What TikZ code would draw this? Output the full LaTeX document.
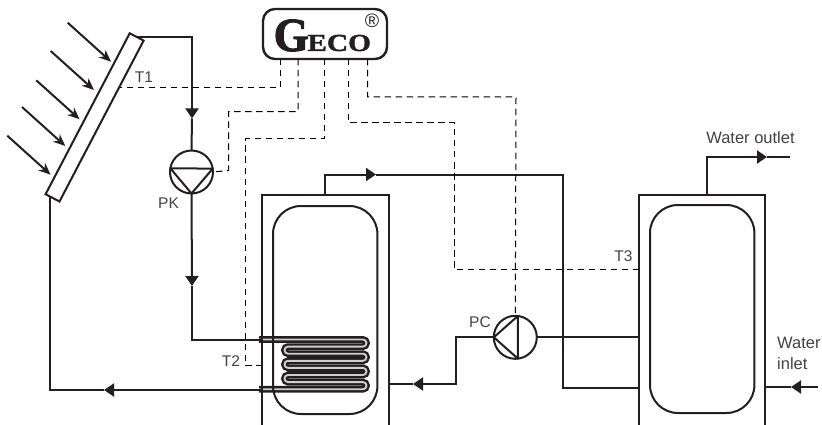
\documentclass[tikz,border=0pt]{standalone}
\usepackage{fontspec}
\setmainfont{Liberation Sans}
\newfontfamily\gecobig[FakeBold=2.2,FakeStretch=0.95]{Liberation Serif Bold}
\newfontfamily\gecosmall[FakeBold=1.6,FakeStretch=1.2]{Liberation Serif Bold}
\usetikzlibrary{arrows.meta}
\definecolor{ink}{HTML}{231F20}
\newcommand{\coilpath}{(259,339.5) -- (366.5,339.5) -- (366.5,346.6) -- (284.5,346.6) -- (284.5,353.7) -- (366.5,353.7) -- (366.5,360.8) -- (284.5,360.8) -- (284.5,367.9) -- (366.5,367.9) -- (366.5,375) -- (284.5,375) -- (284.5,382.1) -- (366.5,382.1) -- (366.5,389.2) -- (259,389.2)}
\begin{document}
\begin{tikzpicture}[x=1pt,y=-1pt,ink,
    pipe/.style={line width=2pt,draw=ink},
    ar/.style={pipe,-{Triangle[length=10pt,width=13pt]}},
    sun/.style={line width=2pt,draw=ink,-{Stealth[length=12pt,width=10pt]}},
    sensor/.style={line width=1pt,draw=black,dash pattern=on 6.5pt off 4.5pt},
    pump/.style={circle,line width=2pt,draw=ink,minimum size=43pt,inner sep=0pt,outer sep=0pt},
    inner/.style={rectangle,rounded corners=28pt,line width=2pt,draw=ink,inner sep=0pt,outer sep=0pt},
    lab/.style={font=\fontsize{15.5}{18}\selectfont,text=ink!85,inner sep=0pt},
    water/.style={font=\fontsize{16.5}{21}\selectfont,text=ink!85,inner sep=0pt,align=left}]
  \useasboundingbox (0,0) rectangle (822,425);

  \node[rectangle,draw=ink,line width=2pt,minimum width=181.6pt,minimum height=15.7pt,inner sep=0pt,outer sep=0pt,rotate=62.4] (col) at (94.6,117.4) {};
  \foreach \i/\x/\y in {1/67.7/22.7,2/50.7/51,3/36.3/80.3,4/22/107,5/7.3/135.7} {
    \coordinate (s\i) at (\x,\y);
    \coordinate (e\i) at (\x+43.3,\y+39);
    \draw[sun] (s\i) -- (e\i);
  }

  \node[rectangle,rounded corners=12pt,line width=2.4pt,draw=ink,minimum width=124pt,minimum height=50pt,inner sep=0pt,outer sep=0pt] (logo) at (325,34) {};
  \node[inner sep=0pt,anchor=base west] (geco) at (273.5,51) {\gecobig\fontsize{47.5}{47}\selectfont G\gecosmall\fontsize{24.5}{25}\selectfont\hspace{-1.5pt}ECO};
  \node[inner sep=0pt,font=\fontsize{19.5}{19}\selectfont] (reg) at (372,20.5) {®};

  \node[pump] (pk) at (191.5,172) {};
  \node[pump] (pc) at (515.3,337.3) {};
  \draw[pipe,line join=round] (pk.170.6) -- (pk.9.4) -- (pk.south) -- cycle;
  \draw[pipe,line join=round] (pc.83.6) -- (pc.-83.6) -- (pc.west) -- cycle;
  \node[lab] (pklab) at (168.5,203) {PK};
  \node[lab] (pclab) at (480,322) {PC};
  \node[lab] (t1lab) at (144,77) {T1};
  \node[lab] (t2lab) at (231,361) {T2};
  \node[lab] (t3lab) at (623.5,256) {T3};

  \draw[pipe,double=ink!22,double distance=1.9pt,line width=2.4pt,rounded corners=3.5pt] \coilpath;

  \node[inner,minimum width=104.4pt,minimum height=208pt] (inner1) at (325.2,310) {};
  \node[inner,minimum width=104.4pt,minimum height=208pt] (inner2) at (702.2,309) {};
  \coordinate (t1tl) at (261.7,195);
  \coordinate (t1tr) at (388.5,195);
  \coordinate (t2tl) at (638.7,195);
  \coordinate (t2tr) at (765.3,195);
  \draw[pipe] (261.7,425) -- (t1tl) -- (t1tr) -- (388.5,425);
  \draw[pipe] (638.7,425) -- (t2tl) -- (t2tr) -- (765.3,425);

  \coordinate (a1) at (192,118.5);
  \coordinate (a2) at (192,286);
  \coordinate (a3) at (104,390);
  \coordinate (a4) at (376,174.5);
  \coordinate (a5) at (413,384);
  \coordinate (a6) at (767,157);
  \coordinate (a7) at (791,387);
  \coordinate (colout) at (50,197);
  \draw[ar] (col.east) -| (a1);
  \draw[pipe] (a1) -- (pk.north);
  \draw[ar] (pk.south) -- (a2);
  \draw[pipe] (a2) |- (261.7,339.5);
  \draw[ar] (261.7,390) -- (a3);
  \draw[pipe] (a3) -| (colout);
  \draw[ar] (325,195) |- (a4);
  \draw[pipe] (a4) -| (563,388) -- (638.7,388);
  \draw[pipe] (pc.east) -- (638.7,337.3);
  \draw[ar] (pc.west) -| (456,384) -- (a5);
  \draw[pipe] (a5) -- (388.5,384);
  \draw[ar] (707,195) |- (a6);
  \draw[pipe] (a6) -- (790,157);
  \draw[ar] (818,387) -- (a7);
  \draw[pipe] (a7) -- (765.3,387);

  \coordinate (t1) at (120,88);
  \coordinate (t2) at (261.7,365.6);
  \coordinate (t3) at (638.7,269.3);
  \draw[sensor] (280,59) |- (t1);
  \draw[sensor] (298,59) -- (298,111.7) -- (228.5,111.7) -- (228.5,170.5) -- (pk.east);
  \draw[sensor] (324,59) -- (324,139) -- (245.5,139) -- (245.5,365.6) -- (t2);
  \draw[sensor] (348,59) -- (348,123) -- (454,123) -- (454,269.3) -- (t3);
  \draw[sensor] (367.7,59) -- (367.7,97) -- (516,97) -- (pc.north);

  \node[water,anchor=base] (outlab) at (750.5,144) {Water outlet};
  \node[water,anchor=north west] (inlab) at (777,337) {Water\\inlet};
\end{tikzpicture}
\end{document}
